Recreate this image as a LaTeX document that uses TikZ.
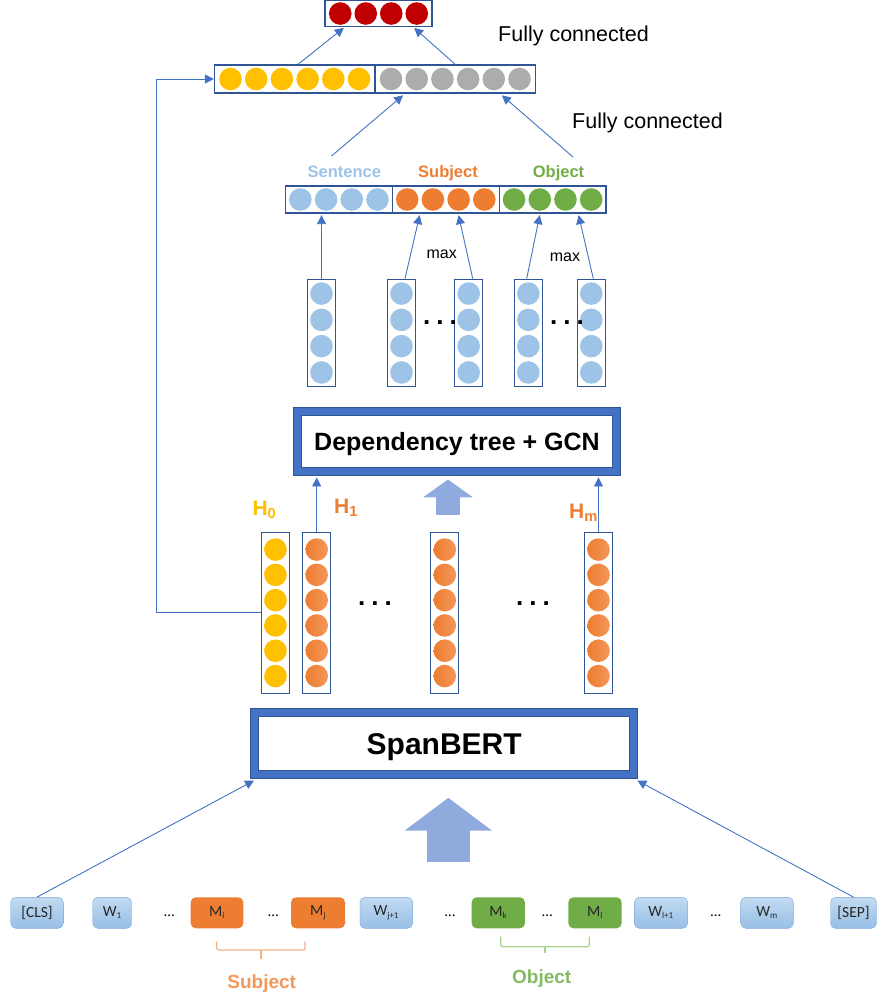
\documentclass[tikz,border=0pt]{standalone}
\usepackage{fontspec}
\setmainfont{Liberation Sans}
\newfontfamily\carl{Carlito}
\usetikzlibrary{arrows.meta}
\definecolor{boxblue}{HTML}{2F5597}
\definecolor{arrowblue}{HTML}{4472C4}
\definecolor{fatblue}{HTML}{8FAADC}
\definecolor{cblue}{HTML}{9DC3E6}
\definecolor{corange}{HTML}{ED7D31}
\definecolor{corangeL}{HTML}{F4975A}
\definecolor{cyellow}{HTML}{FFC000}
\definecolor{cgray}{HTML}{AEABAB}
\definecolor{cgreen}{HTML}{70AD47}
\definecolor{cred}{HTML}{C00000}
\definecolor{tokA}{HTML}{C2DAF0}
\definecolor{tokB}{HTML}{97BFE6}
\definecolor{tokline}{HTML}{7FA8DC}
\definecolor{braceO}{HTML}{F4B183}
\definecolor{braceG}{HTML}{A9D18E}
\newcommand{\fsz}[1]{\fontsize{#1}{#1}\selectfont}
\newcommand{\tsub}[1]{\textsubscript{\fsz{9}#1}}

\begin{document}
\begin{tikzpicture}[x=1pt,y=-1pt]
\tikzset{vec/.style = {draw=boxblue, line width=1.3pt, inner sep=0pt},
  ball/.style = {circle, inner sep=0pt, minimum size=22.6pt},
  conn/.style = {draw=arrowblue, line width=0.9pt, -{Triangle[length=9pt,width=9pt]}},
  frame/.style = {draw=boxblue, double=arrowblue, double distance=7pt, line width=1pt, fill=white, text depth=0pt},
  tok/.style = {rounded corners=5pt, draw=tokline, top color=tokA, bottom color=tokB, minimum height=31pt, text=black!85, font=\carl\fsz{15.5}},
  tokc/.style = {rounded corners=5pt, fill=#1, minimum height=31pt, minimum width=53.3pt, text=black!85, font=\carl\fsz{15.5}},
  lbl/.style = {inner sep=0pt, anchor=base, font=\bfseries\fsz{16.5}},
  dots/.style = {inner sep=0pt, font=\bfseries\fsz{26}}}
\useasboundingbox (0,0) rectangle (878,997);

\node[vec, minimum width=107pt, minimum height=25.5pt] (out) at (378.5,13.5) {};
\foreach \i in {0,...,3} \node[ball, fill=cred] (o\i) at ({378.5+(\i-1.5)*25.5},13.5) {};
\node[vec, minimum width=160.5pt, minimum height=28pt] (concL) at (294.75,79) {};
\node[vec, minimum width=160.5pt, minimum height=28pt] (concR) at (455.25,79) {};
\foreach \i in {0,...,5} {
  \node[ball, fill=cyellow] (cl\i) at ({294.75+(\i-2.5)*25.7},79) {};
  \node[ball, fill=cgray] (cr\i) at ({455.25+(\i-2.5)*25.7},79) {};
}
\node[inner sep=0pt, anchor=base west, font=\fsz{21.5}] (fc1) at (498,41.5) {Fully connected};
\node[inner sep=0pt, anchor=base west, font=\fsz{21.5}] (fc2) at (572,128.3) {Fully connected};

\foreach \n/\x/\c in {sent/338.9/cblue, subj/445.75/corange, obj/552.6/cgreen} {
  \node[vec, minimum width=106.8pt, minimum height=27pt] (\n) at (\x,199.5) {};
  \foreach \i in {0,...,3} \node[ball, fill=\c] (\n\i) at ({\x+(\i-1.5)*25.7},199.5) {};
}
\node[lbl, text=cblue] (sentlbl) at (344.3,177.3) {Sentence};
\node[lbl, text=corange] (subjlbl) at (448,177.3) {Subject};
\node[lbl, text=cgreen] (objlbl) at (558.5,177.3) {Object};
\coordinate (sentup) at (331.5,156);
\coordinate (objup) at (573,157);

\foreach \n/\x in {col1/321.5, col2/401.5, col3/468.7, col4/528.3, col5/591.3} {
  \node[vec, minimum width=28pt, minimum height=107.4pt] (\n) at (\x,333) {};
  \foreach \i in {0,...,3} \node[ball, fill=cblue] (\n\i) at (\x,{333+(\i-1.5)*26.3}) {};
}
\node[inner sep=0pt, anchor=base, font=\fsz{16}] (max1) at (441.7,258.3) {max};
\node[inner sep=0pt, anchor=base, font=\fsz{16}] (max2) at (565,261.5) {max};
\node[dots] (dc1) at (440,323) {.\hspace{6pt}.\hspace{6pt}.};
\node[dots] (dc2) at (567,323) {.\hspace{6pt}.\hspace{6pt}.};

\node[frame, minimum width=318.4pt, minimum height=60.3pt, font=\bfseries\fsz{25}] (gcn) at (457,441.3) {Dependency tree + GCN};

\foreach \n/\x/\c/\d in {h0/275.5/cyellow/cyellow, h1/316.7/corange/corangeL, hk/444.8/corange/corangeL, hm/598.5/corange/corangeL} {
  \node[vec, minimum width=28pt, minimum height=161pt] (\n) at (\x,612.8) {};
  \foreach \i in {0,...,5} \node[ball, left color=\c, right color=\d] (\n\i) at (\x,{612.8+(\i-2.5)*25.3}) {};
}
\node[inner sep=0pt, anchor=base west, font=\bfseries\fsz{21}, text=cyellow] (h0lbl) at (252.3,515) {H\textsubscript{0}};
\node[inner sep=0pt, anchor=base west, font=\bfseries\fsz{21}, text=corange] (h1lbl) at (334,513.3) {H\textsubscript{1}};
\node[inner sep=0pt, anchor=base west, font=\bfseries\fsz{21}, text=corange] (hmlbl) at (569,518.3) {H\textsubscript{m}};
\node[dots] (dh1) at (375,604) {.\hspace{6pt}.\hspace{6pt}.};
\node[dots] (dh2) at (533,604) {.\hspace{6pt}.\hspace{6pt}.};
\coordinate (gcntail) at (448,515);

\node[frame, minimum width=379.3pt, minimum height=62pt, font=\bfseries\fsz{30}] (bert) at (444.2,743.8) {SpanBERT};
\coordinate (berttail) at (448.3,862);

\foreach \n/\x/\w/\t in {cls/37/52.6/{[CLS]}, w1/112.2/39/{W\tsub{1}}, wj/386.3/52.7/{W\tsub{j+1}}, wl/661/53.3/{W\tsub{l+1}}, wm/767/52.6/{W\tsub{m}}, sep/853.5/46/{[SEP]}}
  \node[tok, minimum width=\w pt] (\n) at (\x,912.8) {\t};
\node[tokc=corange, minimum width=52.6pt] (mi) at (217,912.8) {M\tsub{i}};
\node[tokc=corange, minimum width=54pt] (mj) at (318,912.8) {M\tsub{j}};
\node[tokc=cgreen] (mk) at (498.3,912.8) {M\tsub{k}};
\node[tokc=cgreen] (ml) at (595,912.8) {M\tsub{l}};
\foreach \n/\x in {e1/169.3, e2/273.3, e3/450, e4/547.3, e5/715.7}
  \node[inner sep=0pt, font=\carl\fsz{15}] (\n) at (\x,916) {…};

\draw[braceO, line width=1.2pt, rounded corners=2pt] (216.7,941.7) |- (305,950) -- (305,941.7);
\draw[braceO, line width=1.2pt] (261,950) -- (261,959.3);
\draw[braceG, line width=1.2pt, rounded corners=2pt] (500.7,936.7) |- (589.3,946.7) -- (589.3,936.7);
\draw[braceG, line width=1.2pt] (545,946.7) -- (545,952.7);
\node[inner sep=0pt, anchor=base, font=\bfseries\fsz{19}, text=corangeL] (subjb) at (261.7,988.3) {Subject};
\node[inner sep=0pt, anchor=base, font=\bfseries\fsz{19}, text=cgreen!85!white] (objb) at (541.7,983.3) {Object};

\draw[conn, shorten >=1.5pt] ([xshift=3.25pt]concL.north) -- ([xshift=-33.5pt]out.south);
\draw[conn, shorten >=1.5pt] (concR.north) -- ([xshift=34.5pt]out.south);
\draw[conn, shorten >=2.5pt] (sentup) -- ([xshift=-50.25pt]concR.south);
\draw[conn, shorten >=2.5pt] (objup) -- ([xshift=44.75pt]concR.south);
\draw[conn, shorten >=1.5pt] (col1.north) -- (col1.north |- sent.south);
\draw[conn, shorten >=1.5pt] ([xshift=3.5pt]col2.north) -- ([xshift=-25.75pt]subj.south);
\draw[conn, shorten >=1.5pt] ([xshift=4pt]col3.north) -- ([xshift=12.5pt]subj.south);
\draw[conn, shorten >=1.5pt] ([xshift=-1.6pt]col4.north) -- ([xshift=-12.6pt]obj.south);
\draw[conn, shorten >=1.5pt] ([xshift=2pt]col5.north) -- ([xshift=25.7pt]obj.south);
\draw[conn, shorten >=5.5pt] (h1.north) -- (h1.north |- gcn.south);
\draw[conn, shorten >=5.5pt] (hm.north) -- (hm.north |- gcn.south);
\draw[conn] (h0.west) -- ++(-104.4,0) |- (concL.west);
\draw[fatblue, line width=24pt, -{Triangle[length=18pt,width=49pt]}, shorten >=7.5pt] (gcntail) -- (gcntail |- gcn.south);
\draw[fatblue, line width=43.3pt, -{Triangle[length=32.7pt,width=85.3pt]}, shorten >=22.5pt] (berttail) -- (berttail |- bert.south);
\draw[conn] (cls.north) -- ([yshift=-5.2pt]bert.south west);
\draw[conn] (sep.north) -- ([xshift=3pt,yshift=-5.2pt]bert.south east);
\end{tikzpicture}
\end{document}
